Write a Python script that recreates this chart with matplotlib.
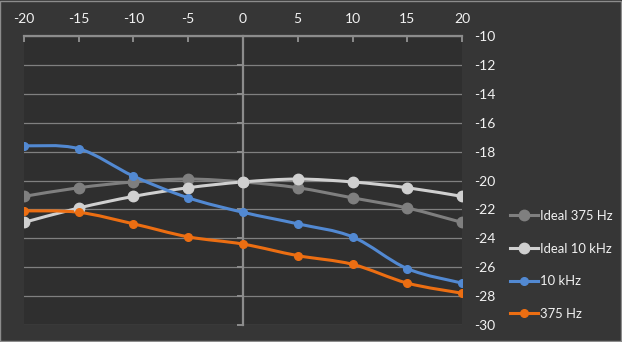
import numpy as np
import matplotlib
matplotlib.use("Agg")
import matplotlib.pyplot as plt
from matplotlib.path import Path
from matplotlib.patches import PathPatch

# dati
angles = [-20, -15, -10, -5, 0, 5, 10, 15, 20]
ideal_375 = [-21.1, -20.5, -20.1, -19.9, -20.1, -20.5, -21.2, -21.9, -22.9]
ideal_10k = [-22.9, -21.9, -21.1, -20.5, -20.1, -19.9, -20.1, -20.5, -21.1]
khz_10 = [-17.6, -17.8, -19.7, -21.2, -22.2, -23.0, -23.9, -26.1, -27.1]
hz_375 = [-22.1, -22.2, -23.0, -23.9, -24.4, -25.2, -25.8, -27.1, -27.8]
labels = ["Ideal 375 Hz", "Ideal 10 kHz", "10 kHz", "375 Hz"]
y_ticks = [-10, -12, -14, -16, -18, -20, -22, -24, -26, -28, -30]

series = [ideal_375, ideal_10k, khz_10, hz_375]
colors = ["#7f7f7f", "#d0d0d0", "#5289d2", "#ec6e12"]
msizes = [7.5, 7.5, 5.5, 5.5]

plt.rcParams["font.family"] = ["Lato", "DejaVu Sans"]
plt.rcParams["axes.unicode_minus"] = False

fig = plt.figure(figsize=(6.22, 3.42), dpi=100, facecolor="#363636")
ax = fig.add_axes([24 / 622, 1 - 325 / 342, 438 / 622, 289 / 342])
ax.set_facecolor("#2f2f2f")

# bordo esterno
fig.patches.append(plt.Rectangle((0.0008, 0.0015), 0.998, 0.997, transform=fig.transFigure,
                                 fill=False, edgecolor="#8c8c8c", linewidth=1))


def smooth_path(x, y, t=1.0):
    # curva tipo Excel (Catmull-Rom -> Bezier)
    p = np.column_stack([x, y]).astype(float)
    verts = [p[0]]
    codes = [Path.MOVETO]
    n = len(p)
    for i in range(n - 1):
        p0 = p[i - 1] if i > 0 else p[i]
        p3 = p[i + 2] if i + 2 < n else p[i + 1]
        c1 = p[i] + (p[i + 1] - p0) / 6 * t
        c2 = p[i + 1] - (p3 - p[i]) / 6 * t
        verts += [c1, c2, p[i + 1]]
        codes += [Path.CURVE4] * 3
    return Path(verts, codes)


handles = []
for vals, col, ms, lab in zip(series, colors, msizes, labels):
    ax.add_patch(PathPatch(smooth_path(angles, vals), facecolor="none", edgecolor=col,
                           linewidth=2.2, zorder=3, capstyle="round", joinstyle="round"))
    ax.plot(angles, vals, linestyle="none", marker="o", markersize=ms, color=col, zorder=4)
    h, = ax.plot([], [], color=col, linewidth=2.2, marker="o", markersize=ms, label=lab)
    handles.append(h)

ax.set_xlim(-20, 20)
ax.set_ylim(-30, -10)
ax.set_xticks(angles)
ax.set_yticks(y_ticks)
ax.grid(axis="y", color="#808080", linewidth=0.9)
ax.set_axisbelow(True)

for s in ["bottom", "right"]:
    ax.spines[s].set_visible(False)
ax.spines["top"].set_color("#8c8c8c")
ax.spines["top"].set_linewidth(1.6)
ax.spines["left"].set_position(("data", 0))
ax.spines["left"].set_color("#8c8c8c")
ax.spines["left"].set_linewidth(1.6)

ax.xaxis.tick_top()
ax.tick_params(axis="x", direction="in", length=4, width=1.4, color="#8c8c8c",
               labelcolor="#f2f2f2", labelsize=10, pad=8)
ax.tick_params(axis="y", left=True, labelleft=False, right=False, labelright=True,
               direction="out", length=4, width=1.4, color="#8c8c8c",
               labelcolor="#f2f2f2", labelsize=10, pad=5)
for lbl in ax.get_yticklabels():
    lbl.set_horizontalalignment("left")

fig.legend(handles=handles, loc="center left", bbox_to_anchor=(498 / 622, 1 - 265 / 342),
           frameon=False, fontsize=9.4, labelcolor="#f2f2f2", handlelength=2.2,
           handletextpad=0.1, labelspacing=1.58)

fig.savefig("out.png", dpi=100, facecolor=fig.get_facecolor())
